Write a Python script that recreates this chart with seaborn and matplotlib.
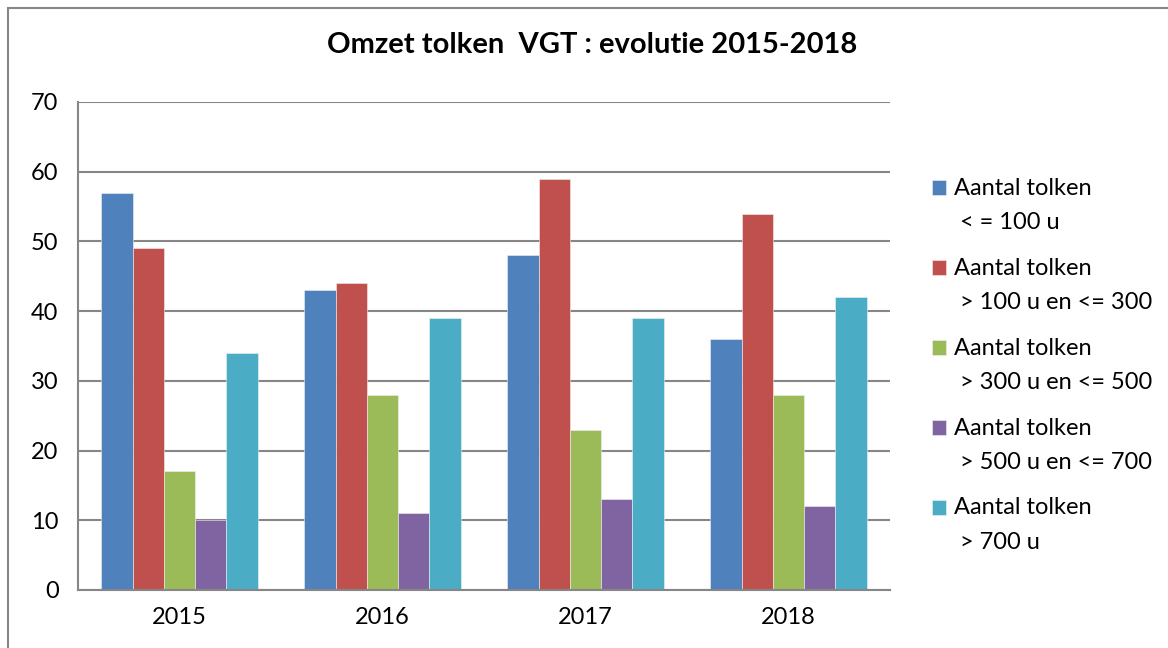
import pandas as pd
import matplotlib
matplotlib.use("Agg")
import matplotlib.pyplot as plt
import seaborn as sns
from matplotlib.patches import Rectangle

# data
years = ["2015", "2016", "2017", "2018"]
series = [
    "Aantal tolken\n < = 100 u",
    "Aantal tolken\n > 100 u en <= 300",
    "Aantal tolken\n > 300 u en <= 500",
    "Aantal tolken\n > 500 u en <= 700",
    "Aantal tolken\n > 700 u",
]
le_100 = [57, 43, 48, 36]
t100_300 = [49, 44, 59, 54]
t300_500 = [17, 28, 23, 28]
t500_700 = [10, 11, 13, 12]
gt_700 = [34, 39, 39, 42]

colors = ["#4F81BD", "#C0504D", "#9BBB59", "#8064A2", "#4BACC6"]

rows = []
for name, vals in zip(series, [le_100, t100_300, t300_500, t500_700, gt_700]):
    for yr, v in zip(years, vals):
        rows.append({"jaar": yr, "reeks": name, "aantal": v})
df = pd.DataFrame(rows)

sns.set_theme(style="white")
plt.rcParams["font.family"] = ["Lato", "DejaVu Sans"]
plt.rcParams["text.color"] = "black"

fig = plt.figure(figsize=(11.68, 6.48), dpi=100)
ax = fig.add_axes([78 / 1168, 58 / 648, 812 / 1168, 488 / 648])

sns.barplot(data=df, x="jaar", y="aantal", hue="reeks", palette=colors,
            width=0.77, ax=ax, saturation=1, edgecolor="#f0f0f0", linewidth=0.4)

ax.set_ylim(0, 70)
ax.set_yticks(range(0, 71, 10))
ax.yaxis.grid(True, color="#868686", linewidth=1.5)
ax.set_axisbelow(True)
ax.set_xlabel("")
ax.set_ylabel("")
for side in ["top", "right"]:
    ax.spines[side].set_visible(False)
for side in ["left", "bottom"]:
    ax.spines[side].set_color("#868686")
    ax.spines[side].set_linewidth(1.5)
ax.tick_params(axis="y", labelsize=17, pad=14, length=0, colors="black")
ax.tick_params(axis="x", labelsize=17, pad=12, length=0, colors="black")

handles, labels = ax.get_legend_handles_labels()
leg = ax.legend(handles, labels, loc="upper left", bbox_to_anchor=(1.04, 0.864),
                frameon=False, fontsize=17, handlelength=0.6, handleheight=0.6,
                handletextpad=0.35, labelspacing=1.03, borderaxespad=0)
for t in leg.get_texts():
    t.set_linespacing(1.8)
    t.set_color("black")
# put the colour square next to the first text line
for p in leg.get_patches():
    p.set_y(p.get_y() + 13)

fig.text(592 / 1168, 1 - 45 / 648, "Omzet tolken  VGT : evolutie 2015-2018",
         ha="center", va="center", fontsize=21, fontweight="bold", color="black")

# outer chart frame, like the spreadsheet border
fig.patches.append(Rectangle((8 / 1168, -0.1), 1.2, 1 - 8 / 648 + 0.1,
                             transform=fig.transFigure, fill=False,
                             edgecolor="#868686", linewidth=1.5))

fig.savefig("out.png", dpi=100)
